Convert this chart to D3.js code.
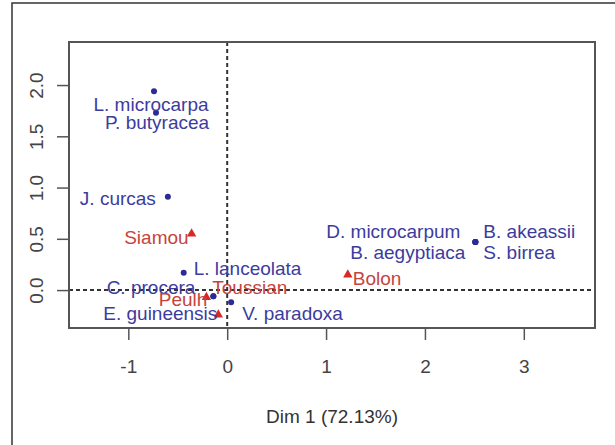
<!DOCTYPE html>
<html>
<head>
<meta charset="utf-8">
<script src="https://cdn.jsdelivr.net/npm/d3@7"></script>
<style>
  body { margin: 0; background: #fff; }
  text { font-family: "Liberation Sans", Arial, sans-serif; }
</style>
</head>
<body>
<div id="chart"></div>
<script>
// CA biplot: plant species (rows) and ethnic groups (columns)
const rowNames = ['L. microcarpa', 'P. butyracea', 'J. curcas', 'L. lanceolata', 'C. procera',
  'E. guineensis', 'V. paradoxa', 'D. microcarpum', 'B. aegyptiaca', 'B. akeassii', 'S. birrea'];
const rowDim1 = [-0.74, -0.72, -0.60, -0.44, -0.14, -0.14, 0.04, 2.51, 2.51, 2.51, 2.51];
const rowDim2 = [1.94, 1.73, 0.91, 0.17, -0.06, -0.06, -0.12, 0.47, 0.47, 0.47, 0.47];

const colNames = ['Siamou', 'Bolon', 'Peulh', 'Toussian'];
const colDim1 = [-0.36, 1.22, -0.21, -0.09];
const colDim2 = [0.55, 0.15, -0.07, -0.24];

const xTicks = [-1, 0, 1, 2, 3];
const yTicks = [0, 0.5, 1, 1.5, 2];
const xTitle = 'Dim 1 (72.13%)';

// label placement relative to the point (anchor, dx, dy in px)
const labelPos = {
  'L. microcarpa': ['middle', -3, 20],
  'P. butyracea': ['middle', 1, 16],
  'J. curcas': ['end', -12, 8],
  'L. lanceolata': ['start', 10, 2],
  'C. procera': ['end', -18, -2],
  'E. guineensis': ['end', 4, 24],
  'V. paradoxa': ['start', 11, 18],
  'D. microcarpum': ['end', -15, -4],
  'B. aegyptiaca': ['end', -10, 17],
  'B. akeassii': ['start', 8, -4],
  'S. birrea': ['start', 8, 17],
  'Siamou': ['end', -3, 10],
  'Bolon': ['start', 5, 10],
  'Peulh': ['end', 1, 9],
  'Toussian': ['start', -6, -21]
};

const width = 615, height = 445;
const margin = {top: 42, right: 20, bottom: 117, left: 69};
const blue = '#3c3c9e', blueDot = '#2b2b95';
const red = '#c6443e', redMark = '#d62a2a';

const svg = d3.select('#chart').append('svg')
  .attr('width', width)
  .attr('height', height);

// outer frame (left + top only, the rest is cropped)
svg.append('path')
  .attr('d', 'M12,' + height + 'V3H' + width)
  .attr('fill', 'none')
  .attr('stroke', '#333')
  .attr('stroke-width', 1.5);

const x = d3.scaleLinear().domain([-1.6, 3.72]).range([margin.left, width - margin.right]);
const y = d3.scaleLinear().domain([-0.37, 2.42]).range([height - margin.bottom, margin.top]);

// axes
const xAxis = svg.append('g')
  .attr('transform', 'translate(0,' + (height - margin.bottom) + ')')
  .call(d3.axisBottom(x).tickValues(xTicks).tickSize(12).tickPadding(20).tickFormat(d3.format('d')));
xAxis.select('.domain').remove();
xAxis.selectAll('line').attr('stroke', '#555').attr('stroke-width', 1.5);
xAxis.selectAll('text').attr('font-size', 19).attr('fill', '#444')
  .attr('font-family', '"Liberation Sans", Arial, sans-serif')
  .text(d => d < 0 ? '-' + Math.abs(d) : d);

const yAxis = svg.append('g')
  .attr('transform', 'translate(' + margin.left + ',0)')
  .call(d3.axisLeft(y).tickValues(yTicks).tickSize(12).tickFormat(d3.format('.1f')));
yAxis.select('.domain').remove();
yAxis.selectAll('line').attr('stroke', '#555').attr('stroke-width', 1.5);
yAxis.selectAll('text')
  .attr('font-size', 19).attr('fill', '#444')
  .attr('font-family', '"Liberation Sans", Arial, sans-serif')
  .attr('x', null).attr('dy', null)
  .attr('text-anchor', 'middle')
  .attr('transform', 'translate(-26,0) rotate(-90)');

// zero lines
svg.append('line')
  .attr('x1', x(0)).attr('x2', x(0))
  .attr('y1', margin.top).attr('y2', height - margin.bottom)
  .attr('stroke', '#333').attr('stroke-width', 2).attr('stroke-dasharray', '4,3');
svg.append('line')
  .attr('x1', margin.left).attr('x2', width - margin.right)
  .attr('y1', y(0)).attr('y2', y(0))
  .attr('stroke', '#333').attr('stroke-width', 2).attr('stroke-dasharray', '4,3');

// plot box
svg.append('rect')
  .attr('x', margin.left).attr('y', margin.top)
  .attr('width', width - margin.left - margin.right)
  .attr('height', height - margin.top - margin.bottom)
  .attr('fill', 'none').attr('stroke', '#555').attr('stroke-width', 2);

const rows = rowNames.map((n, i) => ({name: n, d1: rowDim1[i], d2: rowDim2[i]}));
const cols = colNames.map((n, i) => ({name: n, d1: colDim1[i], d2: colDim2[i]}));

// species points
svg.selectAll('circle.row')
  .data(rows).enter()
  .append('circle')
  .attr('class', 'row')
  .attr('cx', d => x(d.d1))
  .attr('cy', d => y(d.d2))
  .attr('r', 3)
  .attr('fill', blueDot);

// group triangles
const tri = d3.symbol().type(d3.symbolTriangle).size(38);
svg.selectAll('path.col')
  .data(cols).enter()
  .append('path')
  .attr('class', 'col')
  .attr('d', tri)
  .attr('transform', d => 'translate(' + x(d.d1) + ',' + y(d.d2) + ')')
  .attr('fill', redMark);

function addLabels(data, color) {
  svg.selectAll(null)
    .data(data).enter()
    .append('text')
    .attr('x', d => x(d.d1) + labelPos[d.name][1])
    .attr('y', d => y(d.d2) + labelPos[d.name][2])
    .attr('text-anchor', d => labelPos[d.name][0])
    .attr('font-size', 19)
    .attr('fill', color)
    .text(d => d.name);
}
addLabels(rows, blue);
addLabels(cols, red);

// axis title
svg.append('text')
  .attr('x', (margin.left + width - margin.right) / 2)
  .attr('y', 423)
  .attr('text-anchor', 'middle')
  .attr('font-size', 19)
  .attr('fill', '#333')
  .text(xTitle);
</script>
</body>
</html>
